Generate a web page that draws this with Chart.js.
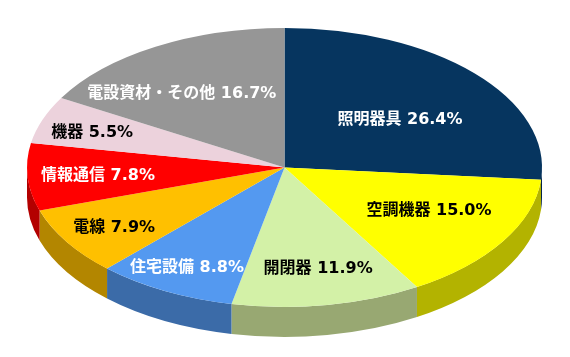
<!DOCTYPE html>
<html lang="ja">
<head>
<meta charset="utf-8">
<title>3D pie</title>
<style>html,body{margin:0;padding:0;background:#fff}canvas{display:block}</style>
<script src="https://cdn.jsdelivr.net/npm/chart.js@4/dist/chart.umd.min.js"></script>
</head>
<body>
<canvas id="c" width="570" height="357"></canvas>
<script>
const categories = ["照明器具","空調機器","開閉器","住宅設備","電線","情報通信","機器","電設資材・その他"];
const shares = [26.4,15.0,11.9,8.8,7.9,7.8,5.5,16.7];
const topColors = ["#06355F","#FFFF00","#D3F1A7","#5499F0","#FFC000","#FF0000","#ECD2DC","#969696"];
const wallColors = ["#04254A","#B3B300","#98A872","#3B6BA8","#B38600","#B30000","#A59399","#696969"];
const textColors = ["#fff","#000","#000","#fff","#000","#fff","#000","#fff"];
// label placement, as fractions of the radius along the slice's mid-angle (horizontal, vertical)
const labelFx = [.608,.662,.788,.814,.782,.726,.795,.796];
const labelFy = [.525,.561,.723,.798,.786,.66,.765,.625];

const RADIUS = 257.5, RY = 139.5, CENTER_Y = 167.5, DEPTH = 30, LABEL_DY = 1.5;
const FONT = 'bold 16px "DejaVu Sans","Noto Sans CJK JP",sans-serif';

const pie3d = {
  id: 'pie3d',
  beforeDatasetsDraw(chart) {
    const ctx = chart.ctx, arcs = chart.getDatasetMeta(0).data;
    arcs.forEach((arc, i) => {
      const a0 = Math.max(arc.startAngle, 0), a1 = Math.min(arc.endAngle, Math.PI);
      if (a1 <= a0) return;
      ctx.beginPath();
      ctx.ellipse(arc.x, CENTER_Y, RADIUS, RY, 0, a0, a1);
      ctx.ellipse(arc.x, CENTER_Y + DEPTH, RADIUS, RY, 0, a1, a0, true);
      ctx.closePath();
      ctx.fillStyle = wallColors[i];
      ctx.fill();
    });
    const y0 = arcs[0].y;
    ctx.save();
    ctx.translate(0, CENTER_Y);
    ctx.scale(1, RY / RADIUS);
    ctx.translate(0, -y0);
  },
  afterDatasetsDraw(chart) {
    const ctx = chart.ctx, arcs = chart.getDatasetMeta(0).data;
    ctx.restore();
    ctx.font = FONT;
    ctx.textAlign = 'center';
    ctx.textBaseline = 'middle';
    arcs.forEach((arc, i) => {
      const mid = (arc.startAngle + arc.endAngle) / 2;
      const x = arc.x + RADIUS * labelFx[i] * Math.cos(mid);
      const y = CENTER_Y + RY * labelFy[i] * Math.sin(mid) + LABEL_DY;
      ctx.fillStyle = textColors[i];
      ctx.fillText(categories[i] + ' ' + shares[i].toFixed(1) + '%', x, y);
    });
  }
};

new Chart(document.getElementById('c'), {
  type: 'pie',
  data: {
    labels: categories,
    datasets: [{ data: shares, backgroundColor: topColors, borderWidth: 0, clip: false }]
  },
  options: {
    responsive: false,
    animation: false,
    radius: RADIUS,
    layout: { padding: { right: 1 } },
    plugins: { legend: { display: false }, tooltip: { enabled: false } }
  },
  plugins: [pie3d]
});
</script>
</body>
</html>
